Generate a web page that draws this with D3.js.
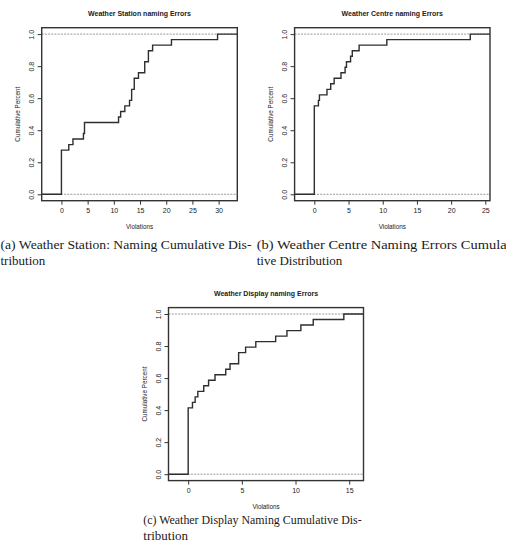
<!DOCTYPE html>
<html>
<head>
<meta charset="utf-8">
<script src="https://cdn.jsdelivr.net/npm/d3@7"></script>
<style>
	body { margin: 0; background: #fff; }
	svg { display: block; }
	.title { font-family: "Liberation Sans", Arial, sans-serif; font-weight: bold; font-size: 7px; fill: #222; }
	.tick { font-family: "Liberation Sans", Arial, sans-serif; font-size: 7px; fill: #1a1a1a; }
	.lab { font-family: "Liberation Sans", Arial, sans-serif; font-size: 6.3px; fill: #222; }
	.cap { font-family: "Liberation Serif", "DejaVu Serif", serif; font-size: 13px; fill: #1a1a1a; }
</style>
</head>
<body>
<svg id="chart" width="506" height="552"></svg>
<script>
// ecdf knots, n = 29 per panel
var nTotal = 29;

var stationViolations = [0, 1.4, 2.2, 4.2, 4.4, 10.9, 11.3, 12.1, 13.0, 13.4, 13.9, 14.7, 15.9, 16.6, 17.4, 21.0, 29.8];
var stationCount = [8, 9, 10, 11, 13, 14, 15, 16, 17, 19, 21, 22, 24, 26, 27, 28, 29];

var centreViolations = [0, 0.6, 0.75, 1.85, 2.4, 2.9, 3.9, 4.5, 4.7, 5.3, 5.55, 6.55, 10.6, 22.8];
var centreCount = [16, 17, 18, 19, 20, 21, 22, 23, 24, 25, 26, 27, 28, 29];

var displayViolations = [0, 0.4, 0.65, 0.9, 1.45, 1.9, 2.5, 3.5, 3.9, 4.7, 5.35, 6.3, 8.15, 9.2, 10.5, 11.65, 14.5];
var displayCount = [12, 13, 14, 15, 16, 17, 18, 19, 20, 22, 23, 24, 25, 26, 27, 28, 29];

var yTicks = [0, 0.2, 0.4, 0.6, 0.8, 1.0];
var stationTicks = [0, 5, 10, 15, 20, 25, 30];
var centreTicks = [0, 5, 10, 15, 20, 25];
var displayTicks = [0, 5, 10, 15];

var titles = ['Weather Station naming Errors', 'Weather Centre naming Errors', 'Weather Display naming Errors'];
var captions = [
	['(a) Weather Station: Naming Cumulative Dis-', 'tribution'],
	['(b) Weather Centre Naming Errors Cumula', 'tive Distribution'],
	['(c) Weather Display Naming Cumulative Dis-', 'tribution']
];

var svg = d3.select('#chart');

function drawPanel(opts){
	var box = opts.box;
	var g = svg.append('g');

	// same limits as R plot.stepfun + 4% axis padding
	var last = d3.max(opts.xs);
	var dr = 0.08 * last;
	var lo = -dr, hi = last + dr;
	var pad = (hi - lo) * 0.04;

	var x = d3.scaleLinear().domain([lo - pad, hi + pad]).range([box.x0, box.x1]);
	var y = d3.scaleLinear().domain([-0.04, 1.04]).range([box.y1, box.y0]);

	// reference lines at 0 and 1
	g.selectAll('line.ref')
		.data([0, 1])
		.enter().append('line')
		.attr('x1', box.x0).attr('x2', box.x1)
		.attr('y1', function(d){ return y(d); })
		.attr('y2', function(d){ return y(d); })
		.attr('stroke', '#999')
		.attr('stroke-width', 1)
		.attr('stroke-dasharray', '2,1.2');

	// step line
	var pts = [[lo - pad, 0]];
	for (var i = 0; i < opts.xs.length; i++){
		pts.push([opts.xs[i], opts.counts[i] / nTotal]);
	}
	pts.push([hi + pad, opts.counts[opts.counts.length - 1] / nTotal]);

	var line = d3.line()
		.x(function(d){ return x(d[0]); })
		.y(function(d){ return y(d[1]); })
		.curve(d3.curveStepAfter);

	g.append('path')
		.attr('d', line(pts))
		.attr('fill', 'none')
		.attr('stroke', '#2e2e2e')
		.attr('stroke-width', 1.4);

	// frame
	g.append('rect')
		.attr('x', box.x0).attr('y', box.y0)
		.attr('width', box.x1 - box.x0).attr('height', box.y1 - box.y0)
		.attr('fill', 'none')
		.attr('stroke', '#333')
		.attr('stroke-width', 1.4);

	// x axis
	var xAxis = d3.axisBottom(x).tickValues(opts.ticks).tickSize(4).tickPadding(3).tickFormat(d3.format('d'));
	var gx = g.append('g').attr('transform', 'translate(0,' + box.y1 + ')').call(xAxis);
	gx.select('.domain').remove();
	gx.selectAll('line').attr('stroke', '#333').attr('stroke-width', 1);
	gx.selectAll('text').attr('class', 'tick').attr('font-size', null).attr('font-family', null);

	// y axis, labels turned like R
	var yAxis = d3.axisLeft(y).tickValues(yTicks).tickSize(4).tickFormat(d3.format('.1f'));
	var gy = g.append('g').attr('transform', 'translate(' + box.x0 + ',0)').call(yAxis);
	gy.select('.domain').remove();
	gy.selectAll('line').attr('stroke', '#333').attr('stroke-width', 1);
	gy.selectAll('text')
		.attr('class', 'tick')
		.attr('font-size', null).attr('font-family', null)
		.attr('x', null).attr('dy', null)
		.attr('text-anchor', 'middle')
		.attr('transform', 'translate(-8,0) rotate(-90)');

	// labels
	g.append('text')
		.attr('class', 'title')
		.attr('x', (box.x0 + box.x1) / 2)
		.attr('y', box.y0 - 11.5)
		.attr('text-anchor', 'middle')
		.text(opts.title);

	g.append('text')
		.attr('class', 'lab')
		.attr('x', (box.x0 + box.x1) / 2)
		.attr('y', box.y1 + 28.5)
		.attr('text-anchor', 'middle')
		.text('Violations');

	g.append('text')
		.attr('class', 'lab')
		.attr('text-anchor', 'middle')
		.attr('transform', 'translate(' + (box.x0 - 22) + ',' + ((box.y0 + box.y1) / 2) + ') rotate(-90)')
		.text('Cumulative Percent');

	// caption underneath
	var cap = svg.append('g');
	for (var j = 0; j < opts.caption.length; j++){
		var t = cap.append('text')
			.attr('class', 'cap')
			.attr('x', opts.capX)
			.attr('y', opts.capY + j * 15.5)
			.text(opts.caption[j]);
		if (j == 0){
			t.attr('textLength', opts.capW).attr('lengthAdjust', 'spacingAndGlyphs');
		}
	}
}

drawPanel({
	box: {x0: 41.7, x1: 237.3, y0: 27.7, y1: 200.7},
	xs: stationViolations, counts: stationCount, ticks: stationTicks,
	title: titles[0], caption: captions[0], capX: 0.5, capY: 249, capW: 251
});

drawPanel({
	box: {x0: 294.6, x1: 490, y0: 27.7, y1: 200.7},
	xs: centreViolations, counts: centreCount, ticks: centreTicks,
	title: titles[1], caption: captions[1], capX: 256.7, capY: 249, capW: 250
});

drawPanel({
	box: {x0: 168.5, x1: 363.5, y0: 307.6, y1: 480.6},
	xs: displayViolations, counts: displayCount, ticks: displayTicks,
	title: titles[2], caption: captions[2], capX: 143.3, capY: 524, capW: 218.4
});
</script>
</body>
</html>
